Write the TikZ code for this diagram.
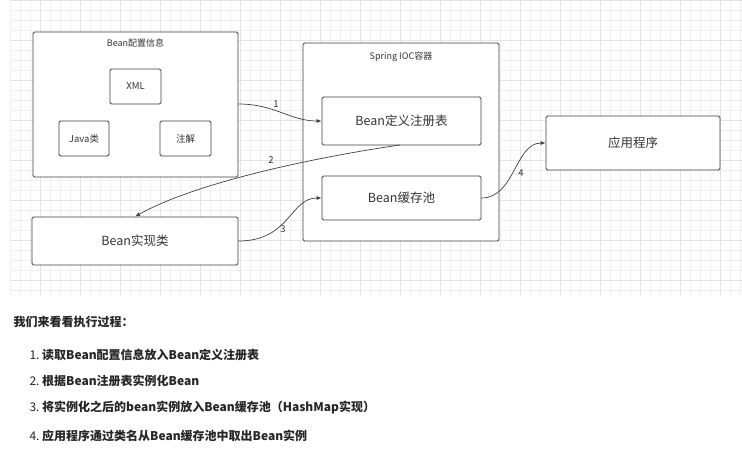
\documentclass[tikz,border=0pt]{standalone}
\usepackage{fontspec}
\setmainfont{Noto Sans CJK SC}
\usetikzlibrary{arrows.meta}
\begin{document}
\begin{tikzpicture}[x=1pt,y=-1pt,
  box/.style={draw=black!75,rounded corners=1.5pt,line width=0.8pt,fill=white,inner sep=0pt},
  arr/.style={draw=black!75,line width=0.7pt,-{Latex[length=5pt,width=4pt]}},
  lab/.style={font=\fontsize{9.5}{9.5}\selectfont,text=black!80},
  big/.style={font=\fontsize{12.5}{12.5}\selectfont,text=black!80},
  txt/.style={font=\fontsize{12}{12}\selectfont\bfseries,text=black!85,anchor=west}]
\useasboundingbox (0,0) rectangle (742,456);
\fill[white] (0,0) rectangle (742,456);
\foreach \i in {0,...,29} {\draw[black!6,line width=0.4pt] (10,\i*10) -- (742,\i*10);}
\foreach \i in {1,...,74} {\draw[black!6,line width=0.4pt] (\i*10,0) -- (\i*10,295);}
\foreach \i in {0,...,7} {\draw[black!11,line width=0.5pt] (10,\i*40) -- (742,\i*40);}
\foreach \i in {1,...,18} {\draw[black!11,line width=0.5pt] (\i*40,0) -- (\i*40,295);}
% boxes
\node[box,minimum width=205,minimum height=145] (cfg) at (135.5,104.5) {};
\node[lab,font=\fontsize{9}{9}\selectfont] (cfgl) at (135.5,43) {Bean配置信息};
\node[box,minimum width=51,minimum height=35,lab] (xml) at (135.5,86.5) {XML};
\node[box,minimum width=50,minimum height=35,lab] (java) at (84,138.5) {Java类};
\node[box,minimum width=51,minimum height=35,lab] (ann) at (185.5,138.5) {注解};
\node[box,minimum width=206,minimum height=48,big] (impl) at (135,241) {Bean实现类};
\node[box,minimum width=196,minimum height=198] (ioc) at (401,142) {};
\node[lab,font=\fontsize{9}{9}\selectfont] (iocl) at (401,57) {Spring IOC容器};
\node[box,minimum width=159,minimum height=48,big] (reg) at (401.5,121) {Bean定义注册表};
\node[box,minimum width=159,minimum height=44,big] (pool) at (401.5,198) {Bean缓存池};
\node[box,minimum width=174,minimum height=54,big] (app) at (633,143) {应用程序};
% arrows
\draw[arr] (cfg.east |- 0,104) .. controls (275,104) and (290,121) .. (reg.west);
\node[lab] (n1) at (276,104) {1};
\draw[arr] (400,145) .. controls (330,155) and (200,180) .. (impl.north);
\node[lab] (n2) at (271,160) {2};
\draw[arr] (impl.east) .. controls (290,241) and (290,198) .. (pool.west);
\node[lab] (n3) at (283,229) {3};
\draw[arr] (pool.east) .. controls (515,198) and (515,143) .. (app.west);
\node[lab] (n4) at (521,173) {4};
% text
\node[txt] (h) at (10,322) {我们来看看执行过程：};
\node[txt] (t1) at (26,355) {\mdseries 1.\ \bfseries 读取Bean配置信息放入Bean定义注册表};
\node[txt] (t2) at (26,381) {\mdseries 2.\ \bfseries 根据Bean注册表实例化Bean};
\node[txt] (t3) at (26,408) {\mdseries 3.\ \bfseries 将实例化之后的bean实例放入Bean缓存池（HashMap实现）};
\node[txt] (t4) at (26,436) {\mdseries 4.\ \bfseries 应用程序通过类名从Bean缓存池中取出Bean实例};
\end{tikzpicture}
\end{document}
